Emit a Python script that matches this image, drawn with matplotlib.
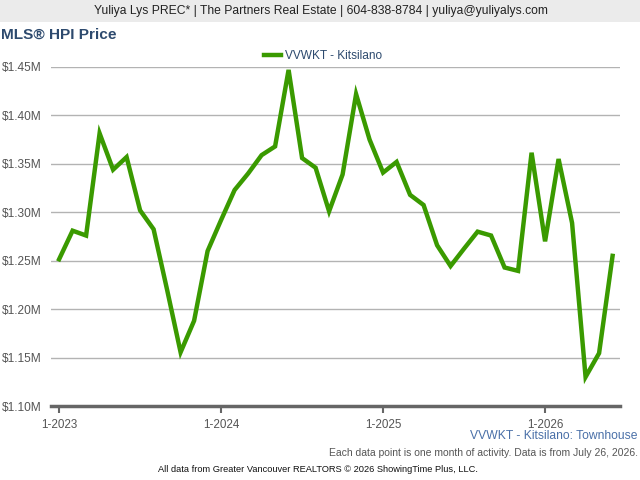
import matplotlib
matplotlib.use("Agg")
import matplotlib.pyplot as plt
import numpy as np
from matplotlib.patches import Rectangle

plt.rcParams.update({"font.family": ["Liberation Sans", "DejaVu Sans"]})

GREEN = "#3a9a00"; NAVY = "#2d4a6e"; GREY = "#555555"; BLUE = "#4a70a8"

# monthly HPI price, Jan 2023 .. Jun 2026 (millions)
prices = [1.2515, 1.281, 1.276, 1.3815, 1.344, 1.357, 1.302, 1.2825, 1.220, 1.1555,
          1.188, 1.260, 1.292, 1.323, 1.340, 1.359, 1.368, 1.447, 1.356, 1.346,
          1.301, 1.339, 1.422, 1.375, 1.341, 1.352, 1.318, 1.3075, 1.266, 1.2445,
          1.2625, 1.280, 1.276, 1.243, 1.2395, 1.3615, 1.270, 1.355, 1.289, 1.130,
          1.1545, 1.255]
tick_months = [0, 12, 24, 36]
tick_labels = ["1-2023", "1-2024", "1-2025", "1-2026"]
y_ticks = [1.10, 1.15, 1.20, 1.25, 1.30, 1.35, 1.40, 1.45]

W, H = 640, 480
fig = plt.figure(figsize=(6.4, 4.8), dpi=100)

# header band
fig.patches.append(Rectangle((0, 1 - 22 / H), 1, 22 / H, transform=fig.transFigure,
                             fc="#ebebeb", ec="none", zorder=0))
fig.text(321 / W, 1 - 11 / H, "Yuliya Lys PREC* | The Partners Real Estate | 604-838-8784 | yuliya@yuliyalys.com",
         ha="center", va="center", fontsize=8.7, color="#222222")
fig.text(1 / W, 1 - 35 / H, "MLS® HPI Price", ha="left", va="center", fontsize=11.1,
         fontweight="bold", color=NAVY)

ax = fig.add_axes([51 / W, 1 - 406 / H, (620 - 51) / W, (406 - 67) / H])
months = np.arange(len(prices))
ax.plot(months, prices, color=GREEN, lw=3.2, solid_joinstyle="miter", label="VVWKT - Kitsilano",
        clip_on=False, zorder=3)

ax.set_xlim(-0.6, 41.55)
ax.set_ylim(1.10, 1.45)
ax.set_yticks(y_ticks)
ax.set_yticklabels([f"${v:.2f}M" for v in y_ticks])
ax.set_xticks(tick_months)
ax.set_xticklabels(tick_labels)
ax.grid(axis="y", color="#b3b3b3", lw=1)
ax.set_axisbelow(True)
for s in ("top", "right", "left"):
    ax.spines[s].set_visible(False)
ax.spines["bottom"].set_color("#666666")
ax.spines["bottom"].set_linewidth(2.5)
ax.tick_params(axis="y", length=0, pad=7, labelsize=8.6, labelcolor=GREY)
ax.tick_params(axis="x", length=5, width=1.5, color="#666666", pad=4, labelsize=8.4,
               labelcolor=GREY)

leg = ax.legend(loc="lower center", bbox_to_anchor=(0.478, 1.0), frameon=False, fontsize=8.6,
                handlelength=1.4, handletextpad=0.3, borderaxespad=0.0)
for t in leg.get_texts():
    t.set_color(NAVY)

fig.text(638 / W, 1 - 436 / H, "VVWKT - Kitsilano: Townhouse", ha="right", va="center",
         fontsize=8.7, color=BLUE)
fig.text(638 / W, 1 - 453 / H, "Each data point is one month of activity. Data is from July 26, 2026.",
         ha="right", va="center", fontsize=7.5, color=GREY)
fig.text(318 / W, 1 - 470 / H, "All data from Greater Vancouver REALTORS © 2026 ShowingTime Plus, LLC.",
         ha="center", va="center", fontsize=6.7, color="#111111")

fig.savefig("out.png", dpi=100)
